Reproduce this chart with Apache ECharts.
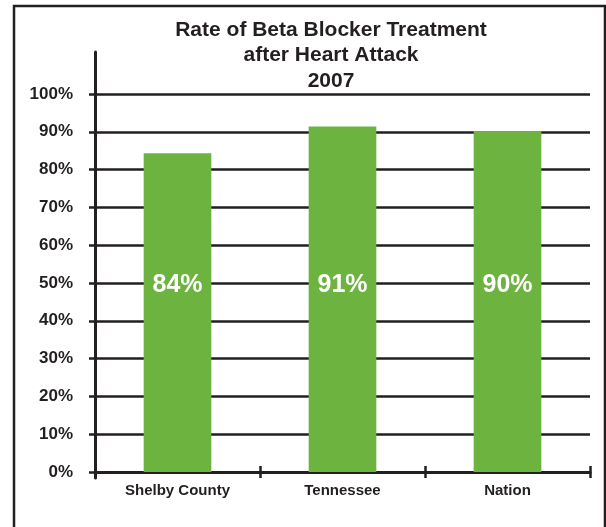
<!DOCTYPE html>
<html>
<head>
<meta charset="utf-8">
<script src="https://cdn.jsdelivr.net/npm/echarts@6/dist/echarts.min.js"></script>
<style>
  html, body { margin: 0; padding: 0; background: #fff; }
  #myChart { width: 606px; height: 527px; }
</style>
</head>
<body>
<div id="myChart"></div>
<script>
// data
var categories = ["Shelby County", "Tennessee", "Nation"];
var rates = [84.3, 91.4, 90.2];
var yTicks = [0, 10, 20, 30, 40, 50, 60, 70, 80, 90, 100];

var ink = "#231f20";
var green = "#6db33f";
var font = "Liberation Sans";

var myChart = echarts.init(document.getElementById("myChart"));
myChart.setOption({
  animation: false,
  title: {
    text: "Rate of Beta Blocker Treatment\nafter Heart Attack\n2007",
    left: 326,
    textAlign: "center",
    top: 12,
    textStyle: {
      fontFamily: font,
      fontWeight: "bold",
      fontSize: 21,
      lineHeight: 25.5,
      color: ink
    }
  },
  // frame round the whole chart
  graphic: [
    {
      type: "rect",
      shape: { x: 14, y: 6, width: 591, height: 540 },
      style: { fill: "none", stroke: ink, lineWidth: 2.5 },
      silent: true
    }
  ],
  grid: [
    { left: 95, right: 16, top: 94, bottom: 55 },
    // only for the tall y axis line
    { left: 95, right: 16, top: 52, bottom: 49 }
  ],
  xAxis: [
    {
      type: "category",
      gridIndex: 0,
      position: "bottom",
      data: categories,
      axisLine: { lineStyle: { color: ink, width: 3 } },
      axisTick: { show: true, length: 6, lineStyle: { color: ink, width: 2.5 } },
      axisLabel: {
        margin: 11,
        color: ink,
        fontFamily: font,
        fontWeight: "bold",
        fontSize: 15
      }
    },
    {
      // ticks above the axis line too
      type: "category",
      gridIndex: 0,
      position: "bottom",
      data: categories,
      axisLine: { show: false },
      axisTick: { show: true, inside: true, length: 6, lineStyle: { color: ink, width: 2.5 } },
      axisLabel: { show: false }
    },
    { type: "value", gridIndex: 1, show: false }
  ],
  yAxis: [
    {
      type: "value",
      gridIndex: 0,
      min: yTicks[0],
      max: yTicks[yTicks.length - 1],
      interval: 10,
      axisLine: { show: false },
      axisTick: { show: true, length: 6, lineStyle: { color: ink, width: 2.5 } },
      splitLine: { lineStyle: { color: ink, width: 2.5 } },
      axisLabel: {
        formatter: "{value}%",
        margin: 22,
        color: ink,
        fontFamily: font,
        fontWeight: "bold",
        fontSize: 17
      }
    },
    {
      type: "value",
      gridIndex: 1,
      axisLine: { show: true, lineStyle: { color: ink, width: 3 } },
      axisTick: { show: false },
      axisLabel: { show: false },
      splitLine: { show: false }
    }
  ],
  series: [
    {
      type: "bar",
      xAxisIndex: 0,
      yAxisIndex: 0,
      data: rates,
      barWidth: "41%",
      itemStyle: { color: green },
      label: {
        show: true,
        position: "insideBottom",
        distance: 174,
        formatter: function (p) {
          return Math.round(p.value) + "%";
        },
        color: "#fff",
        fontFamily: font,
        fontWeight: "bold",
        fontSize: 25
      }
    }
  ]
});
</script>
</body>
</html>
